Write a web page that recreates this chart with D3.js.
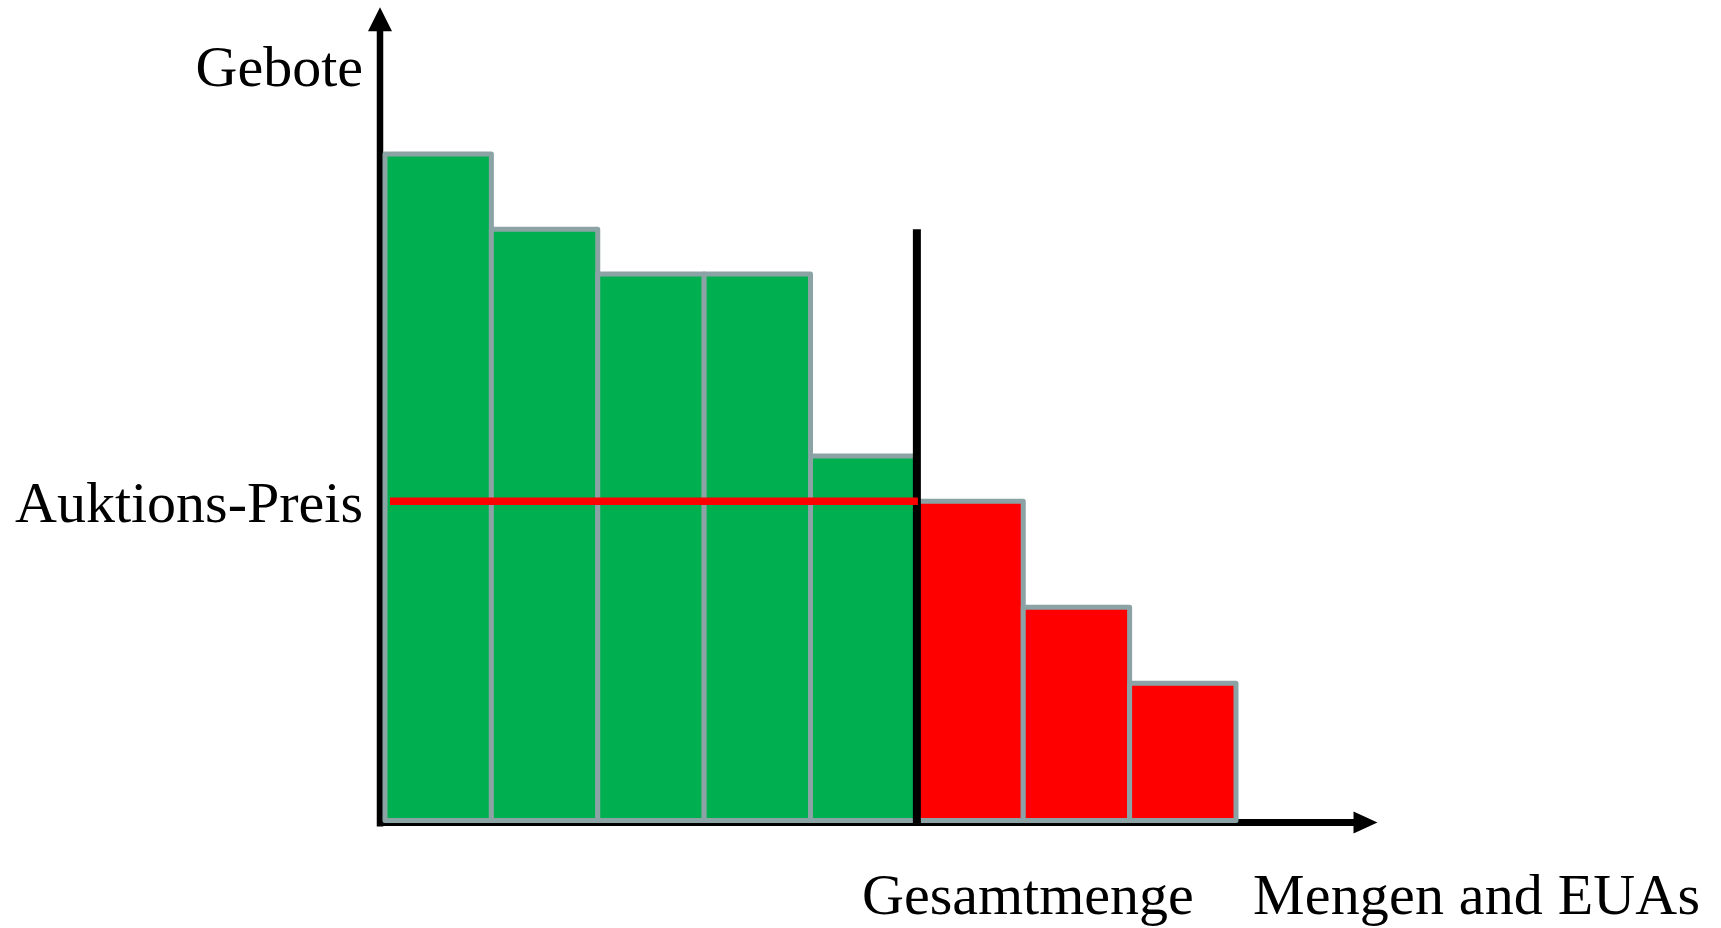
<!DOCTYPE html>
<html>
<head>
<meta charset="utf-8">
<script src="https://cdn.jsdelivr.net/npm/d3@7"></script>
<style>
  html, body { margin: 0; padding: 0; background: #ffffff; }
  svg { display: block; }
  text { font-family: "Liberation Serif", "Times New Roman", serif; fill: #000; }
</style>
</head>
<body>
<div id="chart"></div>
<script>
// ---- data ----
const bids = [100, 88.7, 82, 82, 54.7, 47.9, 32.0, 20.6];   // bid prices (sorted, descending)
const auctionPrice = 47.9;                                   // clearing price
const totalQuantity = 5;                                     // Gesamtmenge (units of supply)
const supplyLineTop = 88.7;                                  // top of supply line
const yAxisMax = 122;
const xAxisMax = 9.33;
const labels = {
  yAxis: "Gebote",
  price: "Auktions-Preis",
  total: "Gesamtmenge",
  xAxis: "Mengen and EUAs"
};

// ---- layout ----
const W = 1721, H = 928;
const svg = d3.select("#chart").append("svg").attr("width", W).attr("height", H);

const x = d3.scaleLinear().domain([0, bids.length]).range([385, 1236]);
const y = d3.scaleLinear().domain([0, 100]).range([820.5, 154]);

const GREEN = "#00B050", RED = "#FF0000", EDGE = "#8BA3A5";

// x axis line (under bars)
const axisY = y(0) + 2;
svg.append("line")
  .attr("x1", x(0) - 8).attr("x2", x(xAxisMax) - 20)
  .attr("y1", axisY).attr("y2", axisY)
  .attr("stroke", "#000").attr("stroke-width", 7);
svg.append("path")
  .attr("d", `M${x(xAxisMax)},${axisY} L${x(xAxisMax) - 24},${axisY - 11} L${x(xAxisMax) - 24},${axisY + 11} Z`)
  .attr("fill", "#000");

// y axis line
const axisX = x(0) - 5;
svg.append("line")
  .attr("x1", axisX).attr("x2", axisX)
  .attr("y1", axisY + 4).attr("y2", y(yAxisMax) + 20)
  .attr("stroke", "#000").attr("stroke-width", 6.5);
svg.append("path")
  .attr("d", `M${axisX},${y(yAxisMax)} L${axisX - 12},${y(yAxisMax) + 24} L${axisX + 12},${y(yAxisMax) + 24} Z`)
  .attr("fill", "#000");

// bars
svg.selectAll("rect.bid")
  .data(bids)
  .join("rect")
  .attr("class", "bid")
  .attr("x", (d, i) => x(i))
  .attr("width", (d, i) => x(i + 1) - x(i))
  .attr("y", d => y(d))
  .attr("height", d => y(0) - y(d))
  .attr("fill", (d, i) => i < totalQuantity ? GREEN : RED)
  .attr("stroke", EDGE)
  .attr("stroke-width", 5)
  .attr("stroke-linejoin", "round");

// supply (Gesamtmenge) line
svg.append("line")
  .attr("x1", x(totalQuantity)).attr("x2", x(totalQuantity))
  .attr("y1", y(supplyLineTop)).attr("y2", axisY + 1)
  .attr("stroke", "#000").attr("stroke-width", 8);

// auction price line
svg.append("line")
  .attr("x1", x(0) + 5).attr("x2", x(totalQuantity) + 1)
  .attr("y1", y(auctionPrice)).attr("y2", y(auctionPrice))
  .attr("stroke", RED).attr("stroke-width", 7.5);

// texts
const fs = 58;
svg.append("text").attr("x", 363).attr("y", 85.5).attr("text-anchor", "end")
  .attr("font-size", fs).text(labels.yAxis);
svg.append("text").attr("x", 363).attr("y", 522).attr("text-anchor", "end")
  .attr("font-size", fs).text(labels.price);
svg.append("text").attr("x", 862).attr("y", 914).attr("text-anchor", "start")
  .attr("font-size", fs).text(labels.total);
svg.append("text").attr("x", 1253).attr("y", 914).attr("text-anchor", "start")
  .attr("font-size", fs).attr("textLength", 447).text(labels.xAxis);
</script>
</body>
</html>
